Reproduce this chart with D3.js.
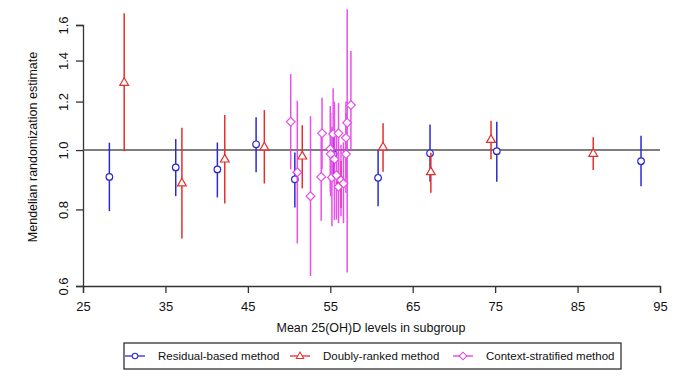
<!DOCTYPE html>
<html>
<head>
<meta charset="utf-8">
<script src="https://cdn.jsdelivr.net/npm/d3@7"></script>
<style>
  body { margin: 0; background: #fff; }
  svg { display: block; font-family: "Liberation Sans", Arial, sans-serif; }
</style>
</head>
<body>
<svg id="chart" width="680" height="380"></svg>
<script>
// Residual-based method (deciles)
const residualX = [28.2, 36.25, 41.3, 46.0, 50.7, 55.4, 60.8, 67.1, 75.2, 92.7];
const residualEst = [0.904, 0.937, 0.930, 1.022, 0.896, 0.985, 0.901, 0.988, 0.996, 0.959];
const residualLo = [0.795, 0.841, 0.837, 0.920, 0.806, 0.900, 0.810, 0.888, 0.888, 0.873];
const residualHi = [1.028, 1.042, 1.029, 1.131, 0.991, 1.060, 1.000, 1.101, 1.112, 1.055];

// Doubly-ranked method
const doublyX = [30.0, 37.0, 42.2, 47.0, 51.6, 56.3, 61.4, 67.2, 74.5, 86.9];
const doublyEst = [1.290, 0.884, 0.967, 1.012, 0.978, 0.893, 1.012, 0.922, 1.041, 0.988];
const doublyLo = [0.996, 0.717, 0.818, 0.882, 0.866, 0.804, 0.922, 0.852, 0.966, 0.928];
const doublyHi = [1.672, 1.087, 1.141, 1.162, 1.098, 0.960, 1.106, 0.990, 1.116, 1.049];

// Context-stratified method
const contextX = [50.2, 51.0, 52.6, 54.0, 53.9, 55.0, 55.05, 55.2, 55.35, 55.5, 55.75, 56.0, 56.0, 56.3, 56.6, 56.9, 56.9, 57.05, 57.5];
const contextEst = [1.112, 0.920, 0.841, 1.065, 0.904, 1.004, 0.985, 0.902, 1.062, 0.966, 0.910, 1.065, 0.871, 0.893, 0.882, 0.985, 1.047, 1.108, 1.184];
const contextLo = [0.930, 0.704, 0.623, 0.930, 0.767, 0.855, 0.840, 0.751, 0.900, 0.769, 0.770, 0.900, 0.760, 0.780, 0.760, 0.851, 0.900, 0.631, 0.997];
const contextHi = [1.331, 1.204, 1.136, 1.217, 1.065, 1.180, 1.150, 1.092, 1.261, 1.199, 1.070, 1.193, 0.990, 1.020, 1.030, 1.149, 1.200, 1.697, 1.451];

const xTicks = [25, 35, 45, 55, 65, 75, 85, 95];
const yTicks = [0.6, 0.8, 1.0, 1.2, 1.4, 1.6];
const legendLabels = ["Residual-based method", "Doubly-ranked method", "Context-stratified method"];

const svg = d3.select("#chart");

const x = d3.scaleLinear().domain([25, 95]).range([83, 660]);
const y = d3.scaleLog().domain([0.6, 1.6]).range([286, 25]);

const axisColor = "#333";

// axes
const xAxis = svg.append("g")
    .attr("transform", `translate(0,${y(0.6)})`)
    .call(d3.axisBottom(x).tickValues(xTicks).tickSize(7).tickPadding(9).tickFormat(d3.format("d")));
const yAxis = svg.append("g")
    .attr("transform", `translate(${x(25)},0)`)
    .call(d3.axisLeft(y).tickValues(yTicks).tickSize(7).tickFormat(d => d.toFixed(1)));

[xAxis, yAxis].forEach(a => {
    a.select(".domain").attr("stroke", axisColor).attr("stroke-width", 1.3);
    a.selectAll(".tick line").attr("stroke", axisColor).attr("stroke-width", 1.3);
    a.selectAll("text").attr("fill", "#111").style("font-size", "13px")
        .style("font-family", "Liberation Sans, Arial, sans-serif");
});

// rotated y tick labels (R style)
yAxis.selectAll(".tick text")
    .attr("x", null).attr("dy", null)
    .attr("text-anchor", "middle")
    .attr("transform", "translate(-20,0) rotate(-90)")
    .attr("dy", "0.35em");

// axis titles
svg.append("text")
    .attr("x", 371).attr("y", 332)
    .attr("text-anchor", "middle")
    .style("font-size", "12.5px").attr("fill", "#111")
    .text("Mean 25(OH)D levels in subgroup");
svg.append("text")
    .attr("transform", "translate(37,147) rotate(-90)")
    .attr("text-anchor", "middle")
    .style("font-size", "12.5px").attr("fill", "#111")
    .text("Mendelian randomization estimate");

// reference line at 1
svg.append("line")
    .attr("x1", x(25)).attr("x2", x(95))
    .attr("y1", y(1)).attr("y2", y(1))
    .attr("stroke", "#555").attr("stroke-width", 1.6);

// marker shapes
const shapes = {
    circle: "M3.3,0A3.3,3.3 0 1,1 -3.3,0A3.3,3.3 0 1,1 3.3,0Z",
    triangle: "M0,-4.6L4.4,3L-4.4,3Z",
    diamond: "M0,-4.4L4.4,0L0,4.4L-4.4,0Z"
};

const series = [
    { xs: residualX, est: residualEst, lo: residualLo, hi: residualHi, color: "#2a2ad2", shape: "circle", opacity: 1 },
    { xs: doublyX, est: doublyEst, lo: doublyLo, hi: doublyHi, color: "#e2302c", shape: "triangle", opacity: 1 },
    { xs: contextX, est: contextEst, lo: contextLo, hi: contextHi, color: "#e438e6", shape: "diamond", opacity: 0.88 }
];

series.forEach(s => {
    const data = s.xs.map((v, i) => ({ x: v, est: s.est[i], lo: s.lo[i], hi: s.hi[i] }));
    const g = svg.append("g").attr("opacity", s.opacity);
    g.selectAll("line.ci")
        .data(data)
        .join("line")
        .attr("class", "ci")
        .attr("x1", d => x(d.x)).attr("x2", d => x(d.x))
        .attr("y1", d => y(d.lo)).attr("y2", d => y(d.hi))
        .attr("stroke", s.color).attr("stroke-width", 1.5);
    g.selectAll("path.pt")
        .data(data)
        .join("path")
        .attr("class", "pt")
        .attr("transform", d => `translate(${x(d.x)},${y(d.est)})`)
        .attr("d", shapes[s.shape])
        .attr("fill", "#fff")
        .attr("stroke", s.color).attr("stroke-width", 1.2);
});

// legend
const legend = svg.append("g");
legend.append("rect")
    .attr("x", 124).attr("y", 343).attr("width", 497).attr("height", 26)
    .attr("fill", "#fff").attr("stroke", "#222").attr("stroke-width", 1.2);

const legendX = [125, 290, 453];
series.forEach((s, i) => {
    const lx = legendX[i];
    const row = legend.append("g").attr("transform", `translate(${lx},356)`);
    row.append("line").attr("x1", 0).attr("x2", 20).attr("stroke", s.color).attr("stroke-width", 1.3);
    row.append("path").attr("d", shapes[s.shape]).attr("transform", "translate(10,0) scale(0.85)")
        .attr("fill", "#fff").attr("stroke", s.color).attr("stroke-width", 1.2);
    row.append("text").attr("x", 33).attr("dy", "0.35em")
        .style("font-size", "11.5px").attr("fill", "#111")
        .text(legendLabels[i]);
});
</script>
</body>
</html>
